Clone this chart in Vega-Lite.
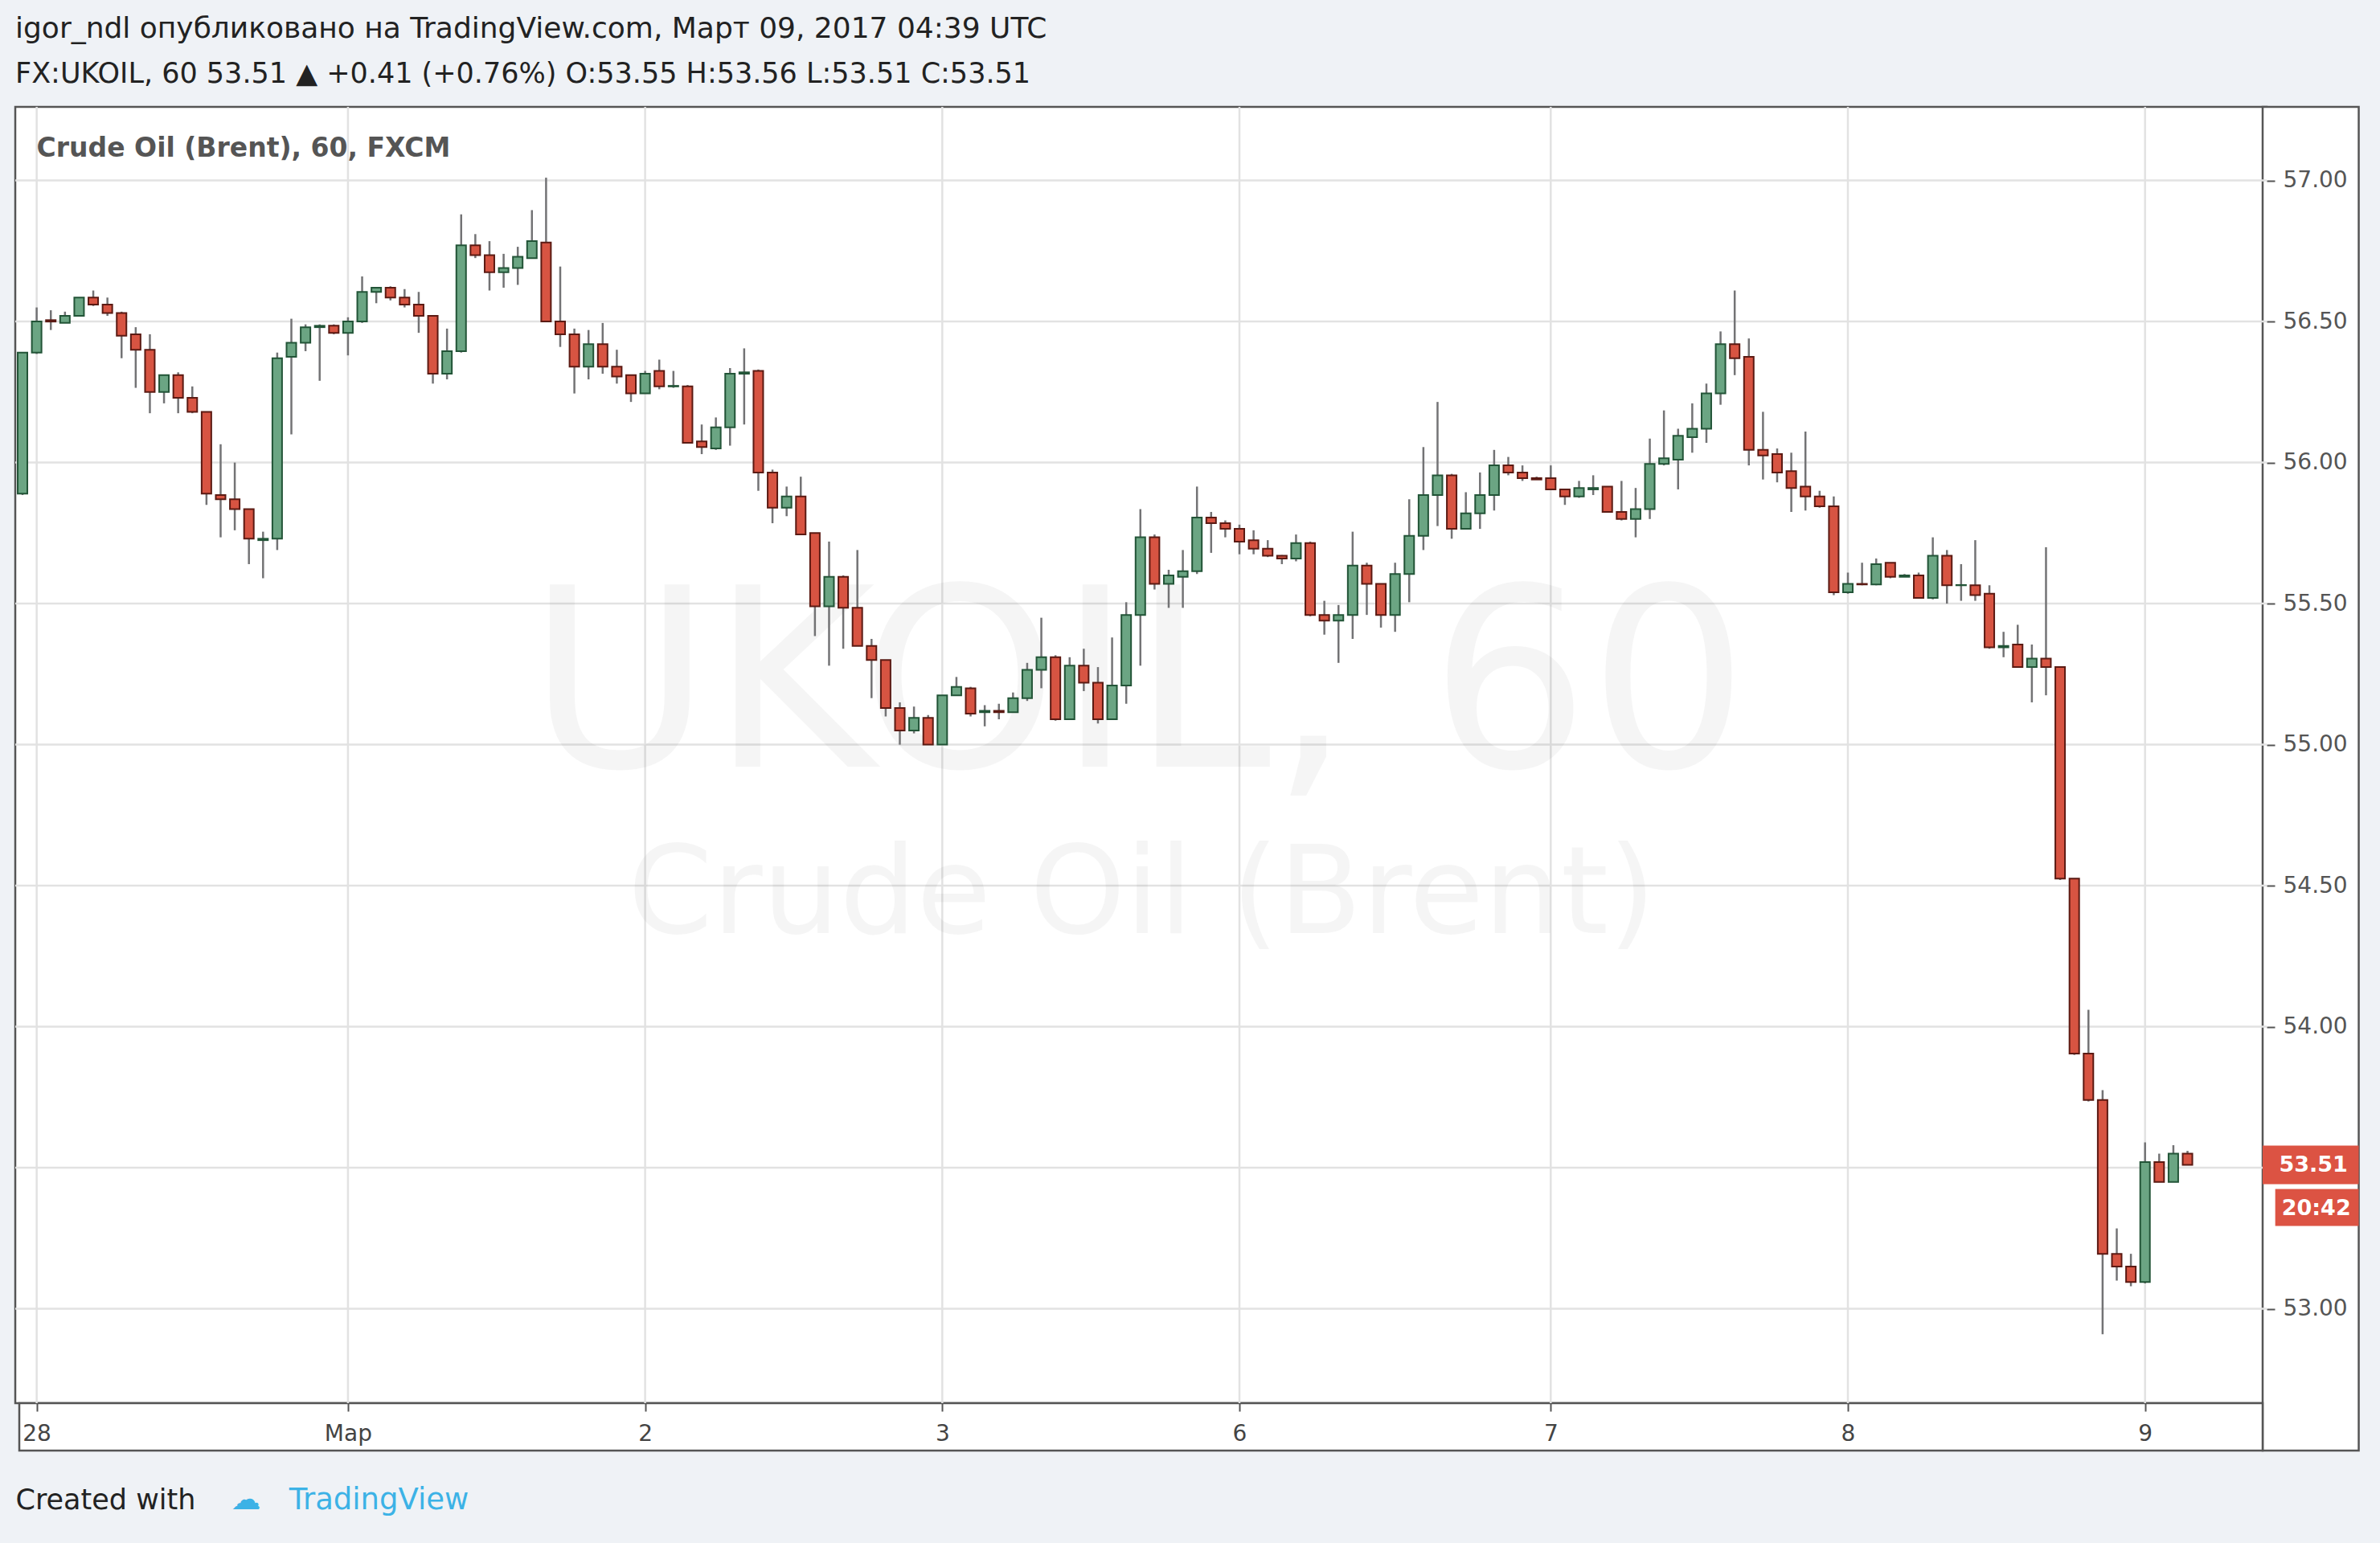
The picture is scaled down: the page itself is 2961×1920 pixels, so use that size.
{
  "$schema": "https://vega.github.io/schema/vega-lite/v6.json",
  "width": 2801,
  "height": 1613,
  "autosize": "none",
  "padding": {"left": 19, "top": 133, "right": 141, "bottom": 174},
  "background": "#eff2f6",
  "config": {
    "view": {"fill": "white", "stroke": "#555555", "strokeWidth": 2.5},
    "font": "DejaVu Sans"
  },
  "title": {
    "text": "igor_ndl опубликовано на TradingView.com, Март 09, 2017 04:39 UTC",
    "subtitle": "FX:UKOIL, 60  53.51 ▲ +0.41 (+0.76%)  O:53.55  H:53.56  L:53.51  C:53.51",
    "anchor": "start",
    "frame": "group",
    "font": "DejaVu Sans",
    "fontSize": 36,
    "fontWeight": "normal",
    "color": "#222222",
    "subtitleFont": "DejaVu Sans",
    "subtitleFontSize": 35,
    "subtitleColor": "#222222",
    "subtitlePadding": 20,
    "offset": 21
  },
  "datasets": {
    "candles": [
      {"i":0,"o":55.89,"h":56.39,"l":55.885,"c":56.39},
      {"i":1,"o":56.39,"h":56.55,"l":56.385,"c":56.5},
      {"i":2,"o":56.505,"h":56.54,"l":56.47,"c":56.5},
      {"i":3,"o":56.495,"h":56.535,"l":56.495,"c":56.52},
      {"i":4,"o":56.52,"h":56.585,"l":56.52,"c":56.585},
      {"i":5,"o":56.585,"h":56.61,"l":56.555,"c":56.56},
      {"i":6,"o":56.56,"h":56.585,"l":56.52,"c":56.53},
      {"i":7,"o":56.53,"h":56.535,"l":56.37,"c":56.45},
      {"i":8,"o":56.455,"h":56.48,"l":56.265,"c":56.4},
      {"i":9,"o":56.4,"h":56.455,"l":56.175,"c":56.25},
      {"i":10,"o":56.25,"h":56.31,"l":56.21,"c":56.31},
      {"i":11,"o":56.31,"h":56.32,"l":56.175,"c":56.23},
      {"i":12,"o":56.23,"h":56.27,"l":56.175,"c":56.18},
      {"i":13,"o":56.18,"h":56.18,"l":55.85,"c":55.89},
      {"i":14,"o":55.885,"h":56.065,"l":55.735,"c":55.87},
      {"i":15,"o":55.87,"h":56.0,"l":55.76,"c":55.835},
      {"i":16,"o":55.835,"h":55.835,"l":55.64,"c":55.73},
      {"i":17,"o":55.725,"h":55.755,"l":55.59,"c":55.73},
      {"i":18,"o":55.73,"h":56.39,"l":55.69,"c":56.37},
      {"i":19,"o":56.375,"h":56.51,"l":56.1,"c":56.425},
      {"i":20,"o":56.425,"h":56.49,"l":56.395,"c":56.48},
      {"i":21,"o":56.48,"h":56.49,"l":56.29,"c":56.485},
      {"i":22,"o":56.485,"h":56.49,"l":56.455,"c":56.46},
      {"i":23,"o":56.46,"h":56.515,"l":56.38,"c":56.5},
      {"i":24,"o":56.5,"h":56.66,"l":56.495,"c":56.605},
      {"i":25,"o":56.605,"h":56.62,"l":56.565,"c":56.62},
      {"i":26,"o":56.62,"h":56.625,"l":56.575,"c":56.585},
      {"i":27,"o":56.585,"h":56.615,"l":56.55,"c":56.56},
      {"i":28,"o":56.56,"h":56.605,"l":56.46,"c":56.52},
      {"i":29,"o":56.52,"h":56.52,"l":56.28,"c":56.315},
      {"i":30,"o":56.315,"h":56.475,"l":56.295,"c":56.395},
      {"i":31,"o":56.395,"h":56.88,"l":56.39,"c":56.77},
      {"i":32,"o":56.77,"h":56.81,"l":56.725,"c":56.735},
      {"i":33,"o":56.735,"h":56.785,"l":56.61,"c":56.675},
      {"i":34,"o":56.675,"h":56.74,"l":56.62,"c":56.69},
      {"i":35,"o":56.69,"h":56.765,"l":56.63,"c":56.73},
      {"i":36,"o":56.725,"h":56.895,"l":56.725,"c":56.785},
      {"i":37,"o":56.78,"h":57.01,"l":56.5,"c":56.5},
      {"i":38,"o":56.5,"h":56.695,"l":56.41,"c":56.455},
      {"i":39,"o":56.455,"h":56.475,"l":56.245,"c":56.34},
      {"i":40,"o":56.34,"h":56.47,"l":56.295,"c":56.42},
      {"i":41,"o":56.42,"h":56.495,"l":56.315,"c":56.34},
      {"i":42,"o":56.34,"h":56.4,"l":56.28,"c":56.305},
      {"i":43,"o":56.31,"h":56.31,"l":56.215,"c":56.245},
      {"i":44,"o":56.245,"h":56.325,"l":56.245,"c":56.315},
      {"i":45,"o":56.325,"h":56.365,"l":56.26,"c":56.27},
      {"i":46,"o":56.27,"h":56.325,"l":56.265,"c":56.272},
      {"i":47,"o":56.27,"h":56.275,"l":56.07,"c":56.07},
      {"i":48,"o":56.075,"h":56.135,"l":56.03,"c":56.055},
      {"i":49,"o":56.05,"h":56.16,"l":56.045,"c":56.125},
      {"i":50,"o":56.125,"h":56.335,"l":56.06,"c":56.315},
      {"i":51,"o":56.315,"h":56.405,"l":56.135,"c":56.32},
      {"i":52,"o":56.325,"h":56.33,"l":55.9,"c":55.965},
      {"i":53,"o":55.965,"h":55.975,"l":55.785,"c":55.84},
      {"i":54,"o":55.84,"h":55.915,"l":55.81,"c":55.88},
      {"i":55,"o":55.88,"h":55.95,"l":55.745,"c":55.745},
      {"i":56,"o":55.75,"h":55.75,"l":55.385,"c":55.49},
      {"i":57,"o":55.49,"h":55.72,"l":55.28,"c":55.595},
      {"i":58,"o":55.595,"h":55.6,"l":55.34,"c":55.485},
      {"i":59,"o":55.485,"h":55.69,"l":55.35,"c":55.35},
      {"i":60,"o":55.35,"h":55.375,"l":55.165,"c":55.3},
      {"i":61,"o":55.3,"h":55.3,"l":55.1,"c":55.13},
      {"i":62,"o":55.13,"h":55.15,"l":55.0,"c":55.05},
      {"i":63,"o":55.05,"h":55.135,"l":55.04,"c":55.095},
      {"i":64,"o":55.095,"h":55.105,"l":55.0,"c":55.0},
      {"i":65,"o":55.0,"h":55.175,"l":55.0,"c":55.175},
      {"i":66,"o":55.175,"h":55.24,"l":55.175,"c":55.205},
      {"i":67,"o":55.2,"h":55.205,"l":55.1,"c":55.11},
      {"i":68,"o":55.115,"h":55.14,"l":55.065,"c":55.12},
      {"i":69,"o":55.12,"h":55.145,"l":55.09,"c":55.115},
      {"i":70,"o":55.115,"h":55.185,"l":55.115,"c":55.165},
      {"i":71,"o":55.165,"h":55.29,"l":55.155,"c":55.265},
      {"i":72,"o":55.265,"h":55.45,"l":55.2,"c":55.31},
      {"i":73,"o":55.31,"h":55.317,"l":55.085,"c":55.09},
      {"i":74,"o":55.09,"h":55.31,"l":55.09,"c":55.28},
      {"i":75,"o":55.28,"h":55.34,"l":55.19,"c":55.22},
      {"i":76,"o":55.22,"h":55.275,"l":55.075,"c":55.09},
      {"i":77,"o":55.09,"h":55.38,"l":55.09,"c":55.21},
      {"i":78,"o":55.21,"h":55.505,"l":55.145,"c":55.46},
      {"i":79,"o":55.46,"h":55.835,"l":55.28,"c":55.735},
      {"i":80,"o":55.735,"h":55.745,"l":55.55,"c":55.57},
      {"i":81,"o":55.57,"h":55.62,"l":55.485,"c":55.6},
      {"i":82,"o":55.595,"h":55.69,"l":55.485,"c":55.615},
      {"i":83,"o":55.615,"h":55.915,"l":55.605,"c":55.805},
      {"i":84,"o":55.805,"h":55.825,"l":55.68,"c":55.785},
      {"i":85,"o":55.785,"h":55.795,"l":55.735,"c":55.765},
      {"i":86,"o":55.765,"h":55.78,"l":55.675,"c":55.72},
      {"i":87,"o":55.725,"h":55.76,"l":55.675,"c":55.695},
      {"i":88,"o":55.695,"h":55.725,"l":55.665,"c":55.67},
      {"i":89,"o":55.67,"h":55.672,"l":55.64,"c":55.66},
      {"i":90,"o":55.66,"h":55.745,"l":55.65,"c":55.715},
      {"i":91,"o":55.715,"h":55.72,"l":55.455,"c":55.46},
      {"i":92,"o":55.46,"h":55.51,"l":55.39,"c":55.44},
      {"i":93,"o":55.44,"h":55.495,"l":55.29,"c":55.46},
      {"i":94,"o":55.46,"h":55.755,"l":55.375,"c":55.635},
      {"i":95,"o":55.635,"h":55.645,"l":55.46,"c":55.57},
      {"i":96,"o":55.57,"h":55.57,"l":55.415,"c":55.46},
      {"i":97,"o":55.46,"h":55.645,"l":55.4,"c":55.605},
      {"i":98,"o":55.605,"h":55.87,"l":55.505,"c":55.74},
      {"i":99,"o":55.74,"h":56.055,"l":55.69,"c":55.885},
      {"i":100,"o":55.885,"h":56.215,"l":55.775,"c":55.955},
      {"i":101,"o":55.955,"h":55.96,"l":55.73,"c":55.765},
      {"i":102,"o":55.765,"h":55.895,"l":55.765,"c":55.82},
      {"i":103,"o":55.82,"h":55.965,"l":55.765,"c":55.885},
      {"i":104,"o":55.885,"h":56.045,"l":55.83,"c":55.99},
      {"i":105,"o":55.99,"h":56.02,"l":55.955,"c":55.965},
      {"i":106,"o":55.965,"h":55.99,"l":55.935,"c":55.945},
      {"i":107,"o":55.945,"h":55.95,"l":55.94,"c":55.94},
      {"i":108,"o":55.945,"h":55.99,"l":55.905,"c":55.905},
      {"i":109,"o":55.905,"h":55.905,"l":55.85,"c":55.88},
      {"i":110,"o":55.88,"h":55.935,"l":55.875,"c":55.91},
      {"i":111,"o":55.905,"h":55.955,"l":55.885,"c":55.91},
      {"i":112,"o":55.915,"h":55.915,"l":55.825,"c":55.825},
      {"i":113,"o":55.825,"h":55.935,"l":55.795,"c":55.8},
      {"i":114,"o":55.8,"h":55.91,"l":55.735,"c":55.835},
      {"i":115,"o":55.835,"h":56.085,"l":55.8,"c":55.995},
      {"i":116,"o":55.995,"h":56.185,"l":55.99,"c":56.015},
      {"i":117,"o":56.01,"h":56.12,"l":55.905,"c":56.095},
      {"i":118,"o":56.09,"h":56.21,"l":56.035,"c":56.12},
      {"i":119,"o":56.12,"h":56.28,"l":56.07,"c":56.245},
      {"i":120,"o":56.245,"h":56.465,"l":56.205,"c":56.42},
      {"i":121,"o":56.42,"h":56.61,"l":56.31,"c":56.37},
      {"i":122,"o":56.375,"h":56.44,"l":55.99,"c":56.045},
      {"i":123,"o":56.045,"h":56.18,"l":55.94,"c":56.025},
      {"i":124,"o":56.03,"h":56.05,"l":55.93,"c":55.965},
      {"i":125,"o":55.97,"h":56.035,"l":55.825,"c":55.91},
      {"i":126,"o":55.915,"h":56.11,"l":55.83,"c":55.88},
      {"i":127,"o":55.88,"h":55.9,"l":55.84,"c":55.845},
      {"i":128,"o":55.845,"h":55.88,"l":55.53,"c":55.54},
      {"i":129,"o":55.54,"h":55.61,"l":55.535,"c":55.57},
      {"i":130,"o":55.57,"h":55.645,"l":55.565,"c":55.568},
      {"i":131,"o":55.568,"h":55.66,"l":55.565,"c":55.64},
      {"i":132,"o":55.645,"h":55.645,"l":55.59,"c":55.595},
      {"i":133,"o":55.595,"h":55.605,"l":55.595,"c":55.6},
      {"i":134,"o":55.6,"h":55.61,"l":55.52,"c":55.52},
      {"i":135,"o":55.52,"h":55.735,"l":55.515,"c":55.67},
      {"i":136,"o":55.67,"h":55.69,"l":55.5,"c":55.565},
      {"i":137,"o":55.565,"h":55.64,"l":55.51,"c":55.566},
      {"i":138,"o":55.565,"h":55.725,"l":55.51,"c":55.53},
      {"i":139,"o":55.535,"h":55.565,"l":55.34,"c":55.345},
      {"i":140,"o":55.345,"h":55.4,"l":55.31,"c":55.35},
      {"i":141,"o":55.355,"h":55.425,"l":55.275,"c":55.275},
      {"i":142,"o":55.275,"h":55.355,"l":55.15,"c":55.305},
      {"i":143,"o":55.305,"h":55.7,"l":55.175,"c":55.275},
      {"i":144,"o":55.275,"h":55.275,"l":54.52,"c":54.525},
      {"i":145,"o":54.525,"h":54.525,"l":53.9,"c":53.905},
      {"i":146,"o":53.905,"h":54.06,"l":53.735,"c":53.74},
      {"i":147,"o":53.74,"h":53.775,"l":52.91,"c":53.195},
      {"i":148,"o":53.195,"h":53.285,"l":53.1,"c":53.15},
      {"i":149,"o":53.15,"h":53.195,"l":53.08,"c":53.095},
      {"i":150,"o":53.095,"h":53.59,"l":53.09,"c":53.52},
      {"i":151,"o":53.52,"h":53.55,"l":53.45,"c":53.45},
      {"i":152,"o":53.45,"h":53.58,"l":53.45,"c":53.55},
      {"i":153,"o":53.55,"h":53.56,"l":53.51,"c":53.51}
    ],
    "last": [{"price": 53.51, "label": "53.51", "timer": "20:42"}],
    "priceGrid": [{"p":53.0},{"p":53.5},{"p":54.0},{"p":54.5},{"p":55.0},{"p":55.5},{"p":56.0},{"p":56.5},{"p":57.0}],
    "dayGrid": [{"d":1},{"d":23},{"d":44},{"d":65},{"d":86},{"d":108},{"d":129},{"d":150}]
  },
  "layer": [
    {
      "data": {"values": [{}]},
      "mark": {"type": "rect", "fill": "white", "stroke": "#555555", "strokeWidth": 2.5},
      "encoding": {
        "x": {"datum": 158.31, "type": "quantitative", "scale": {"domain": [-0.228, 158.31], "nice": false, "zero": false}},
        "x2": {"datum": 165.1},
        "y": {"datum": 57.261, "type": "quantitative", "scale": {"domain": [52.6655, 57.261], "nice": false, "zero": false}},
        "y2": {"datum": 52.4974}
      }
    },
    {
      "data": {"values": [{}]},
      "mark": {"type": "rect", "fill": "white", "stroke": "#555555", "strokeWidth": 2.5},
      "encoding": {
        "x": {"datum": -0.228, "type": "quantitative", "scale": {"domain": [-0.228, 158.31], "nice": false, "zero": false}},
        "x2": {"datum": 158.31},
        "y": {"datum": 52.6655, "type": "quantitative", "scale": {"domain": [52.6655, 57.261], "nice": false, "zero": false}},
        "y2": {"datum": 52.4974}
      }
    },
    {
      "data": {"name": "priceGrid"},
      "mark": {"type": "rule", "color": "#e2e2e2", "strokeWidth": 2.5},
      "encoding": {
        "y": {
          "field": "p", "type": "quantitative",
          "scale": {"domain": [52.6655, 57.261], "nice": false, "zero": false},
          "axis": {
            "orient": "right", "values": [53, 54, 54.5, 55, 55.5, 56, 56.5, 57], "format": ".2f",
            "grid": false, "domain": false, "ticks": true, "tickSize": 10, "tickWidth": 2, "tickColor": "#555555",
            "labelFont": "DejaVu Sans", "labelFontSize": 28, "labelColor": "#555555", "labelPadding": 10, "labelFlush": false,
            "zindex": 1,
            "title": "☁\u00a0\u00a0\u00a0TradingView", "titleX": -2533, "titleY": 1733, "titleAngle": 0, "titleAlign": "left", "titleBaseline": "middle",
            "titleFont": "DejaVu Sans", "titleFontSize": 37, "titleFontWeight": "normal", "titleColor": "#3cb2e6"
          }
        }
      }
    },
    {
      "data": {"name": "dayGrid"},
      "mark": {"type": "rule", "color": "#e2e2e2", "strokeWidth": 2.5},
      "encoding": {
        "x": {
          "field": "d", "type": "quantitative",
          "scale": {"domain": [-0.228, 158.31], "nice": false, "zero": false},
          "axis": {
            "orient": "bottom", "values": [1, 23, 44, 65, 86, 108, 129, 150],
            "labelExpr": "datum.value == 1 ? '28' : datum.value == 23 ? 'Мар' : datum.value == 44 ? '2' : datum.value == 65 ? '3' : datum.value == 86 ? '6' : datum.value == 108 ? '7' : datum.value == 129 ? '8' : '9'",
            "grid": false, "domain": false, "ticks": true, "tickSize": 10, "tickWidth": 2, "tickColor": "#555555",
            "labelFont": "DejaVu Sans", "labelFontSize": 28, "labelColor": "#444444", "labelPadding": 14, "labelFlush": false,
            "zindex": 1,
            "title": "Created with", "titleX": 0, "titleY": 120, "titleAlign": "left", "titleBaseline": "middle",
            "titleFont": "DejaVu Sans", "titleFontSize": 35, "titleFontWeight": "normal", "titleColor": "#222222"
          }
        }
      }
    },
    {
      "data": {"values": [{"label": "UKOIL, 60"}]},
      "mark": {"type": "text", "font": "DejaVu Sans", "fontSize": 311, "fill": "#000000", "opacity": 0.035, "align": "center", "baseline": "alphabetic"},
      "encoding": {
        "x": {"datum": 78.84, "type": "quantitative", "scale": {"domain": [-0.228, 158.31], "nice": false, "zero": false}},
        "y": {"datum": 54.922, "type": "quantitative", "scale": {"domain": [52.6655, 57.261], "nice": false, "zero": false}},
        "text": {"field": "label"}
      }
    },
    {
      "data": {"values": [{"label": "Crude Oil (Brent)"}]},
      "mark": {"type": "text", "font": "DejaVu Sans", "fontSize": 151, "fill": "#000000", "opacity": 0.035, "align": "center", "baseline": "alphabetic"},
      "encoding": {
        "x": {"datum": 79.1, "type": "quantitative", "scale": {"domain": [-0.228, 158.31], "nice": false, "zero": false}},
        "y": {"datum": 54.332, "type": "quantitative", "scale": {"domain": [52.6655, 57.261], "nice": false, "zero": false}},
        "text": {"field": "label"}
      }
    },
    {
      "data": {"name": "candles"},
      "mark": {"type": "rule", "color": "#737375", "strokeWidth": 2.5},
      "encoding": {
        "x": {"field": "i", "type": "quantitative", "scale": {"domain": [-0.228, 158.31], "nice": false, "zero": false}},
        "y": {"field": "l", "type": "quantitative", "scale": {"domain": [52.6655, 57.261], "nice": false, "zero": false}},
        "y2": {"field": "h"}
      }
    },
    {
      "data": {"name": "candles"},
      "mark": {"type": "bar", "width": 12, "strokeWidth": 2},
      "encoding": {
        "x": {"field": "i", "type": "quantitative", "scale": {"domain": [-0.228, 158.31], "nice": false, "zero": false}},
        "y": {"field": "o", "type": "quantitative", "scale": {"domain": [52.6655, 57.261], "nice": false, "zero": false}},
        "y2": {"field": "c"},
        "fill": {"condition": {"test": "datum.c >= datum.o", "value": "#6ba583"}, "value": "#d75442"},
        "stroke": {"condition": {"test": "datum.c >= datum.o", "value": "#225437"}, "value": "#5b1a13"}
      }
    },
    {
      "data": {"values": [{"label": "Crude Oil (Brent), 60, FXCM"}]},
      "mark": {"type": "text", "font": "DejaVu Sans", "fontSize": 33, "fontWeight": "bold", "fill": "#555555", "align": "left", "baseline": "middle"},
      "encoding": {
        "x": {"datum": 1.0, "type": "quantitative", "scale": {"domain": [-0.228, 158.31], "nice": false, "zero": false}},
        "y": {"datum": 57.113, "type": "quantitative", "scale": {"domain": [52.6655, 57.261], "nice": false, "zero": false}},
        "text": {"field": "label"}
      }
    },
    {
      "data": {"name": "last"},
      "mark": {"type": "rect", "fill": "#dc5343", "yOffset": -24, "y2Offset": 24},
      "encoding": {
        "x": {"datum": 158.31, "type": "quantitative", "scale": {"domain": [-0.228, 158.31], "nice": false, "zero": false}},
        "x2": {"datum": 165.1},
        "y": {"field": "price", "type": "quantitative", "scale": {"domain": [52.6655, 57.261], "nice": false, "zero": false}},
        "y2": {"field": "price"}
      }
    },
    {
      "data": {"name": "last"},
      "mark": {"type": "rect", "fill": "#dc5343", "yOffset": 30, "y2Offset": 76},
      "encoding": {
        "x": {"datum": 159.2, "type": "quantitative", "scale": {"domain": [-0.228, 158.31], "nice": false, "zero": false}},
        "x2": {"datum": 165.1},
        "y": {"field": "price", "type": "quantitative", "scale": {"domain": [52.6655, 57.261], "nice": false, "zero": false}},
        "y2": {"field": "price"}
      }
    },
    {
      "data": {"name": "last"},
      "mark": {"type": "text", "font": "DejaVu Sans", "fontSize": 27, "fontWeight": "bold", "fill": "white", "align": "center", "baseline": "middle"},
      "encoding": {
        "x": {"datum": 161.9, "type": "quantitative", "scale": {"domain": [-0.228, 158.31], "nice": false, "zero": false}},
        "y": {"field": "price", "type": "quantitative", "scale": {"domain": [52.6655, 57.261], "nice": false, "zero": false}},
        "text": {"field": "label"}
      }
    },
    {
      "data": {"name": "last"},
      "mark": {"type": "text", "font": "DejaVu Sans", "fontSize": 27, "fontWeight": "bold", "fill": "white", "align": "center", "baseline": "middle", "dy": 54},
      "encoding": {
        "x": {"datum": 162.1, "type": "quantitative", "scale": {"domain": [-0.228, 158.31], "nice": false, "zero": false}},
        "y": {"field": "price", "type": "quantitative", "scale": {"domain": [52.6655, 57.261], "nice": false, "zero": false}},
        "text": {"field": "timer"}
      }
    }
  ]
}
